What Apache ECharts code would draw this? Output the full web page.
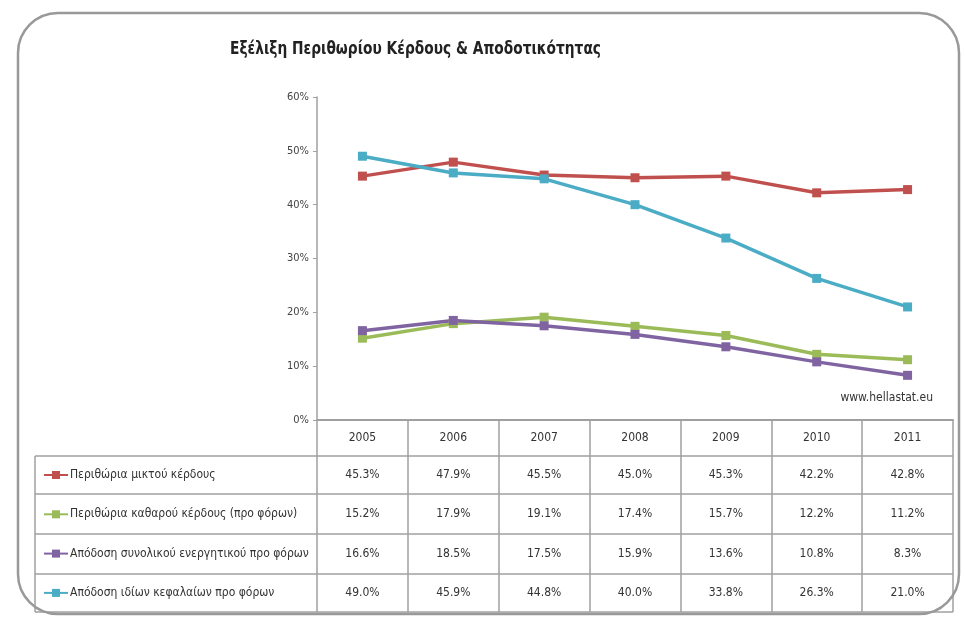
<!DOCTYPE html>
<html>
<head>
<meta charset="utf-8">
<script src="https://cdn.jsdelivr.net/npm/echarts@6/dist/echarts.min.js"></script>
<style>
  html, body { margin: 0; padding: 0; background: #fff; }
  #chart { width: 965px; height: 618px; }
</style>
</head>
<body>
<div id="chart"></div>
<script>
/* ---------- data ---------- */
const years = ['2005', '2006', '2007', '2008', '2009', '2010', '2011'];
const grossMargin = [45.3, 47.9, 45.5, 45.0, 45.3, 42.2, 42.8];
const netMargin = [15.2, 17.9, 19.1, 17.4, 15.7, 12.2, 11.2];
const roa = [16.6, 18.5, 17.5, 15.9, 13.6, 10.8, 8.3];
const roe = [49.0, 45.9, 44.8, 40.0, 33.8, 26.3, 21.0];
const seriesNames = [
  'Περιθώρια μικτού κέρδους',
  'Περιθώρια καθαρού κέρδους (προ φόρων)',
  'Απόδοση συνολικού ενεργητικού προ φόρων',
  'Απόδοση ιδίων κεφαλαίων προ φόρων'
];
const seriesData = [grossMargin, netMargin, roa, roe];
const colors = ['#c0504d', '#9bbb59', '#8064a2', '#4bacc6'];
const titleText = 'Εξέλιξη Περιθωρίου Κέρδους & Αποδοτικότητας';

const FONT = '"Liberation Sans Narrow", "DejaVu Sans Condensed", "Noto Sans", sans-serif';
const LINE = '#a0a0a0';

// table row layout (under the x axis)
const rowTops = [456, 494, 534, 574];
const rowBottom = 612;
const tableLeft = 35;

const chart = echarts.init(document.getElementById('chart'));

chart.setOption({
  animation: false,
  color: colors,
  textStyle: { fontFamily: FONT },
  grid: { left: 317, right: 12, top: 97, bottom: 198 },
  legend: {
    orient: 'vertical',
    left: 38, top: 464,
    itemWidth: 24, itemHeight: 10, itemGap: 27.3,
    textStyle: { fontFamily: FONT, fontSize: 12, color: '#333', padding: [0, 0, 0, -3] },
    data: seriesNames
  },
  xAxis: {
    type: 'category',
    data: years,
    boundaryGap: true,
    axisLine: { lineStyle: { color: LINE, width: 2 } },
    axisTick: { show: true, length: 192, lineStyle: { color: LINE, width: 1.5 } },
    axisLabel: { margin: 12, fontFamily: FONT, fontSize: 12, color: '#333' }
  },
  yAxis: {
    type: 'value',
    min: 0, max: 60, interval: 10,
    axisLine: { show: true, lineStyle: { color: LINE, width: 1.5 } },
    axisTick: { show: true, length: 4, lineStyle: { color: LINE } },
    splitLine: { show: false },
    axisLabel: { formatter: v => v + '%', margin: 8, fontFamily: FONT, fontSize: 11, color: '#444' }
  },
  series: seriesNames.map((name, i) => ({
    name: name,
    type: 'line',
    data: seriesData[i],
    symbol: 'rect',
    symbolSize: 9,
    lineStyle: { width: 3.5, color: colors[i] },
    itemStyle: { color: colors[i] }
  }))
});

/* ---------- data table + decorations ---------- */
const graphic = [];
const xPix = c => chart.convertToPixel({ xAxisIndex: 0 }, years[c]);
const axisRight = xPix(years.length - 1) + (xPix(1) - xPix(0)) / 2;

// title (condensed look)
graphic.push({
  type: 'text', silent: true,
  x: 230, y: 49, scaleX: 0.85,
  style: { text: titleText, verticalAlign: 'middle', font: 'bold 18px ' + FONT, fill: '#222' }
});

// horizontal row lines
rowTops.concat([rowBottom]).forEach(y => {
  graphic.push({
    type: 'line', silent: true,
    shape: { x1: tableLeft, y1: y, x2: axisRight, y2: y },
    style: { stroke: LINE, lineWidth: 1.5 }
  });
});
// left border of legend column
graphic.push({
  type: 'line', silent: true,
  shape: { x1: tableLeft, y1: rowTops[0], x2: tableLeft, y2: rowBottom },
  style: { stroke: LINE, lineWidth: 1.5 }
});

// cell values
seriesData.forEach((vals, r) => {
  const top = rowTops[r];
  const bottom = r + 1 < rowTops.length ? rowTops[r + 1] : rowBottom;
  vals.forEach((v, c) => {
    graphic.push({
      type: 'text', silent: true,
      x: xPix(c),
      y: (top + bottom) / 2,
      style: {
        text: v.toFixed(1) + '%',
        align: 'center', verticalAlign: 'middle',
        font: '12px ' + FONT, fill: '#333'
      }
    });
  });
});

// watermark
graphic.push({
  type: 'text', silent: true,
  x: axisRight - 20, y: 398,
  style: { text: 'www.hellastat.eu', align: 'right', verticalAlign: 'middle', font: '12px ' + FONT, fill: '#333' }
});

// outer rounded frame
graphic.push({
  type: 'rect', silent: true, z: 100,
  shape: { x: 18, y: 13, width: 941, height: 601, r: 40 },
  style: { fill: 'none', stroke: '#999', lineWidth: 2.5 }
});

chart.setOption({ graphic: graphic });
</script>
</body>
</html>
